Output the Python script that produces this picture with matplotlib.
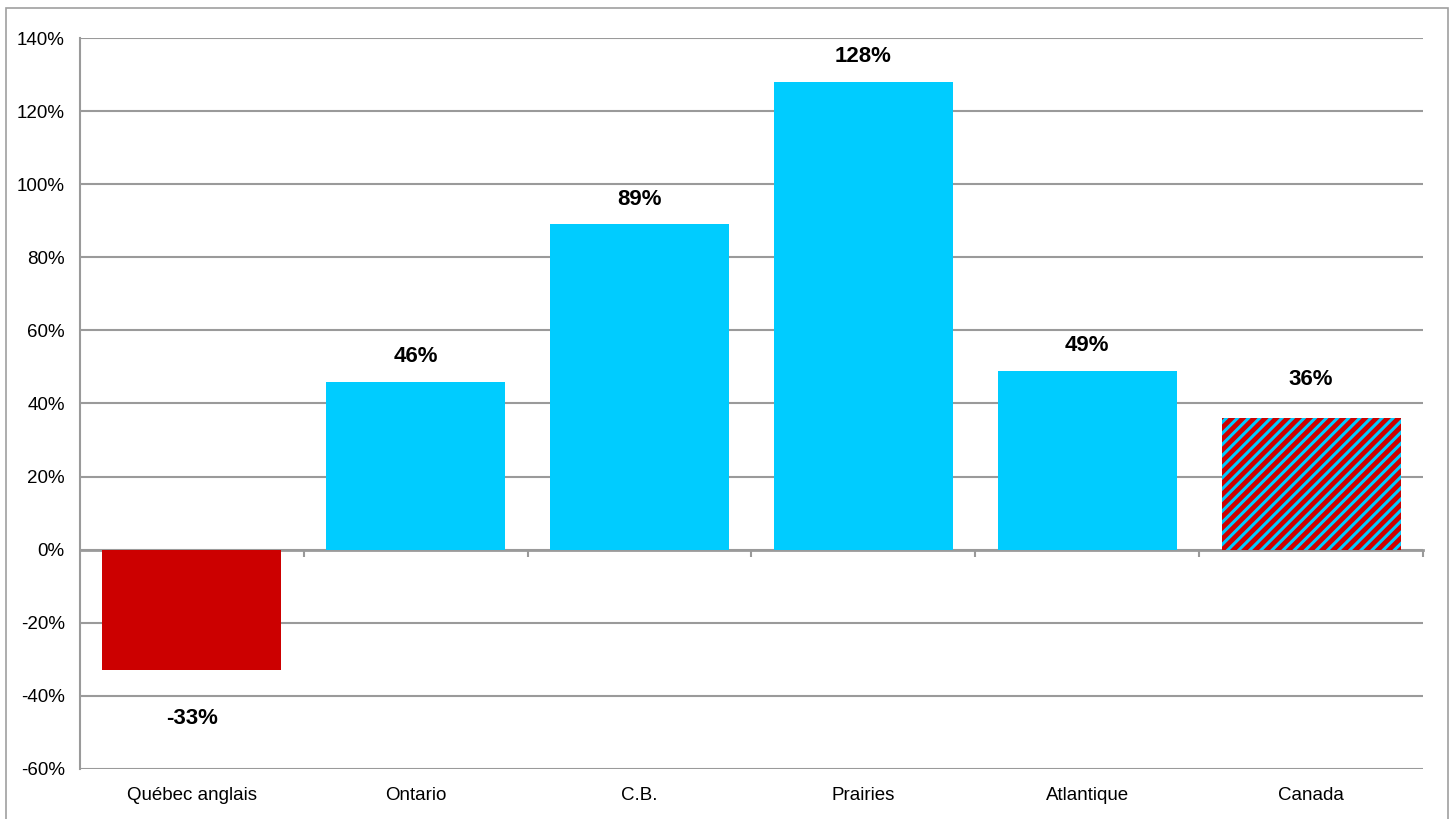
import matplotlib.pyplot as plt
from matplotlib.patches import Rectangle
import numpy as np

regions = ["Québec anglais", "Ontario", "C.B.", "Prairies", "Atlantique", "Canada"]
growth = [-33, 46, 89, 128, 49, 36]
y_ticks = [-60, -40, -20, 0, 20, 40, 60, 80, 100, 120, 140]

RED = "#CC0000"
CYAN = "#00CCFF"
GRID = "#9A9A9A"

plt.rcParams['font.family'] = ['Liberation Sans', 'DejaVu Sans']
plt.rcParams['hatch.linewidth'] = 2.2

fig = plt.figure(figsize=(14.54, 8.19), dpi=100)
ax = fig.add_axes([0.055, 0.0611, 0.9237, 0.8925])

x = np.arange(len(regions))
colors = [RED if v < 0 else CYAN for v in growth]
colors[-1] = RED
bars = ax.bar(x, growth, 0.8, color=colors, linewidth=0, zorder=2)
# Canada bar: red with cyan stripes
bars[-1].set_hatch('///')
bars[-1].set_edgecolor(CYAN)

for xi, v in zip(x, growth):
    if v < 0:
        dy = -35
    elif xi == len(regions) - 1:
        dy = 28
    else:
        dy = 18
    ax.annotate(f"{v}%", (xi, v), xytext=(0, dy), textcoords='offset points',
                ha='center', va='center', fontsize=16, fontweight='bold')

ax.set_xlim(-0.5, len(regions) - 0.5)
ax.set_ylim(-60, 140)
ax.set_yticks(y_ticks, [f"{t}%" for t in y_ticks])
ax.set_xticks(x, regions)
ax.tick_params(axis='both', length=0, labelsize=13.5)
ax.tick_params(axis='y', pad=11)
ax.tick_params(axis='x', pad=13)
ax.yaxis.grid(True, color=GRID, linewidth=1.5, zorder=1)
ax.set_axisbelow(True)
for s in ['top', 'right', 'bottom']:
    ax.spines[s].set_visible(False)
ax.spines['left'].set_color(GRID)
ax.spines['left'].set_linewidth(1.5)

# zero line with ticks between categories
zero_ax = ax.secondary_xaxis((0 - (-60)) / 200)
zero_ax.set_xticks(np.arange(len(regions)) + 0.5)
zero_ax.tick_params(length=5, width=1.5, color=GRID, labelbottom=False, direction='out')
zero_ax.spines['bottom'].set_color(GRID)
zero_ax.spines['bottom'].set_linewidth(2)
zero_ax.spines['bottom'].set_zorder(3)

fig.add_artist(Rectangle((6 / 1454, -0.02), 1442 / 1454, 1 - 8 / 819 + 0.02,
                         transform=fig.transFigure, fill=False,
                         edgecolor='#A0A0A0', linewidth=1.2))

fig.savefig("out.png", dpi=100)
